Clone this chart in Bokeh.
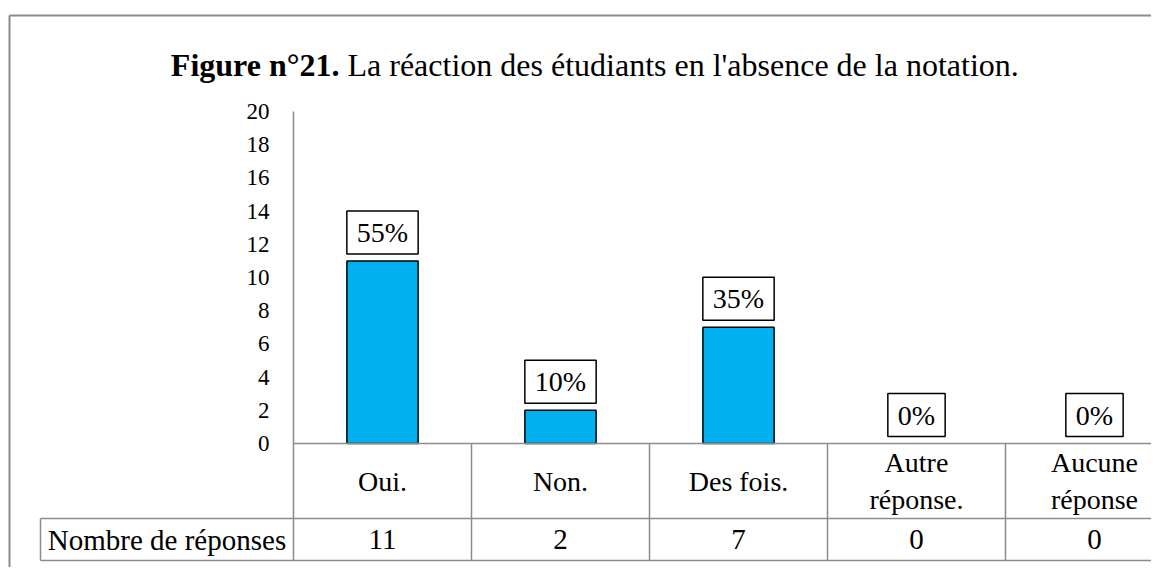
from bokeh.plotting import figure
from bokeh.models import Range1d, LinearAxis, FixedTicker, Label, ColumnDataSource
from bokeh.embed import file_html
from bokeh.resources import INLINE
from bokeh.core.properties import value

# ---- data ----
categories = ["Oui.", "Non.", "Des fois.", "Autre\nréponse.", "Aucune\nréponse"]
counts = [11, 2, 7, 0, 0]
percent_labels = ["55%", "10%", "35%", "0%", "0%"]
y_ticks = [0, 2, 4, 6, 8, 10, 12, 14, 16, 18, 20]
row_label = "Nombre de réponses"
title_bold = "Figure n°21."
title_rest = "La réaction des étudiants en l'absence de la notation."

# ---- layout (image pixels; canvas origin at image (0, 0)) ----
W, H = 1151, 567
ORIGIN = 0
X0_PX, CAT_PX = 293, 178      # x of first category edge, width of a category
Y0_PX, UNIT_PX = 443, 16.6    # y of zero line, pixels per unit
FONT = "Liberation Serif"
GRAY = "#8c8c8c"


def xd(px):
    return (px - X0_PX) / CAT_PX


def yd(py):
    return (Y0_PX - py) / UNIT_PX


x_start, x_end = xd(ORIGIN), xd(ORIGIN + W)
y_start, y_end = yd(ORIGIN + H), yd(ORIGIN)

p = figure(width=W, height=H, output_backend="svg", toolbar_location=None,
           x_range=Range1d(x_start, x_end), y_range=Range1d(y_start, y_end),
           x_axis_location=None, y_axis_location=None, min_border=0)
p.outline_line_color = None
p.background_fill_color = "white"
p.border_fill_color = "white"
p.grid.visible = False

n = len(categories)
xs = [i + 0.5 for i in range(n)]

# ---- y axis ----
table_bottom = yd(560)
yaxis = LinearAxis(fixed_location=0, ticker=FixedTicker(ticks=y_ticks),
                   bounds=(table_bottom, max(y_ticks)),
                   axis_line_color=GRAY, axis_line_width=1.5,
                   major_tick_line_color=None, minor_tick_line_color=None,
                   major_tick_in=0, major_tick_out=0, minor_tick_in=0, minor_tick_out=0,
                   major_label_text_font=FONT, major_label_text_font_size="23px",
                   major_label_text_color="black", major_label_standoff=24)
p.add_layout(yaxis, "left")

# ---- outer border ----
p.segment(x0=[xd(9), xd(9)], y0=[yd(15), yd(15)], x1=[x_end + 1, xd(9)], y1=[yd(15), y_start - 1],
          line_color=GRAY, line_width=2)

# ---- bars ----
src = ColumnDataSource(dict(x=xs, top=counts,
                            la=[1 if c > 0 else 0 for c in counts],
                            lab=percent_labels))
p.vbar(x="x", top="top", width=0.4, source=src, fill_color="#00B0F0",
       line_color="black", line_alpha="la", line_width=1.5)

# ---- data labels ----
p.text(x="x", y="top", text="lab", source=src, anchor="bottom_center",
       y_offset=-7, text_font=value(FONT), text_font_size="28px", text_color="black",
       background_fill_color="white", border_line_color="black", border_line_width=1.5,
       padding=(10, 6))

# ---- data table ----
row_line = yd(518)
cell_left = xd(40)
hx0 = [0, cell_left, cell_left, cell_left] + [float(i) for i in range(1, n)]
hy0 = [0, row_line, table_bottom, row_line] + [0.0] * (n - 1)
hx1 = [x_end + 1, x_end + 1, x_end + 1, cell_left] + [float(i) for i in range(1, n)]
hy1 = [0, row_line, table_bottom, table_bottom] + [table_bottom] * (n - 1)
p.segment(x0=hx0, y0=hy0, x1=hx1, y1=hy1, line_color=GRAY, line_width=1.5)

p.text(x=xs, y=[yd(480.5)] * n, text=categories, text_align="center",
       text_baseline="middle", text_font=value(FONT), text_font_size="28px",
       text_color="black", text_line_height=1.2)
p.text(x=xs, y=[yd(539)] * n, text=[str(c) for c in counts], text_align="center",
       text_baseline="middle", text_font=value(FONT), text_font_size="29px",
       text_color="black")
p.text(x=[xd(166.5)], y=[yd(539)], text=[row_label], text_align="center",
       text_baseline="middle", text_font=value(FONT), text_font_size="29px",
       text_color="black")

# ---- title ----
p.add_layout(Label(x=xd(339), y=yd(64), text=title_bold, text_align="right",
                   text_baseline="alphabetic", text_font=FONT, text_font_size="32px",
                   text_font_style="bold", text_color="black"))
p.add_layout(Label(x=xd(347), y=yd(64), text=title_rest, text_align="left",
                   text_baseline="alphabetic", text_font=FONT, text_font_size="32px",
                   text_color="black"))

open("out.html", "w").write(file_html(p, INLINE))
